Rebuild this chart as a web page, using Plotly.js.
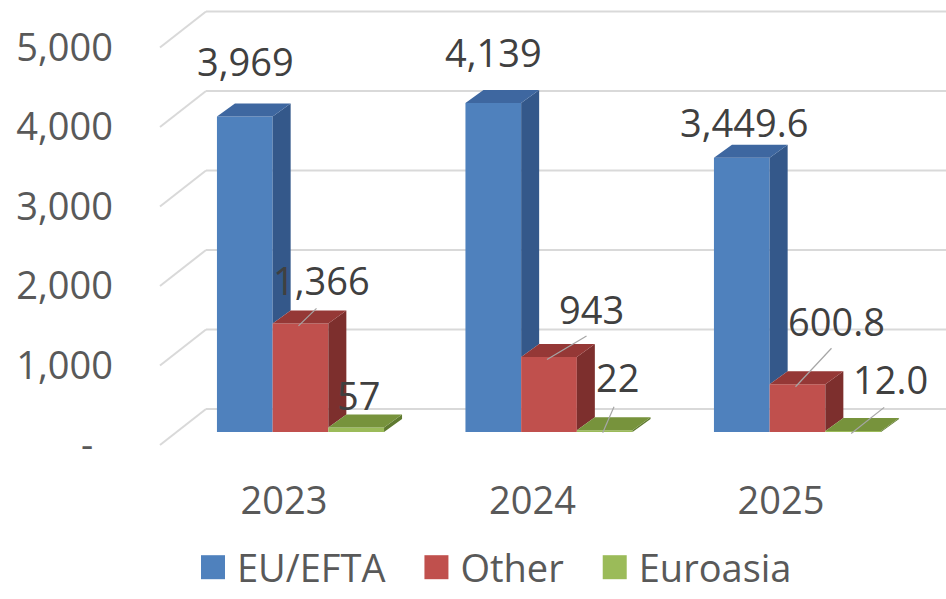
<!DOCTYPE html>
<html><head><meta charset="utf-8">
<script src="https://cdn.plot.ly/plotly-3.0.1.min.js"></script>
<style>html,body{margin:0;padding:0;background:#fff;overflow:hidden}#chart{width:946px;height:599px}</style>
</head><body><div id="chart"></div>
<script>
// ---------- data ----------
const categories = ['2023', '2024', '2025'];
const seriesNames = ['EU/EFTA', 'Other', 'Euroasia'];
const euEfta = [3969, 4139, 3449.6];
const other = [1366, 943, 600.8];
const euroasia = [57, 22, 12.0];
const labelsEuEfta = ['3,969', '4,139', '3,449.6'];
const labelsOther = ['1,366', '943', '600.8'];
const labelsEuroasia = ['57', '22', '12.0'];
const yTickValues = [0, 1000, 2000, 3000, 4000, 5000];
const yTickLabels = ['-\u00a0\u00a0', '1,000', '2,000', '3,000', '4,000', '5,000'];

// ---------- geometry / style ----------
const W = 946, H = 599;
const PLOT_L = 114, PLOT_T = 0, PLOT_B = 475;
const BASE_PX = 432, PX_PER_UNIT = 0.0795;
const CAT0_PX = 300.5, CAT_STEP_PX = 248.5;
const BAR_W = 55.7 / CAT_STEP_PX;
const DEPTH_X = 18 / CAT_STEP_PX;
const DEPTH_Y = 13 / PX_PER_UNIT;
const BACK_Y = 23 / PX_PER_UNIT;
const FRONT_Y = -13 / PX_PER_UNIT;
const LABEL_SHIFT = -16.5 / CAT_STEP_PX;
const pxToX = p => (p - CAT0_PX) / CAT_STEP_PX;
const WALL_X = pxToX(206), EDGE_X = pxToX(160), RIGHT_X = pxToX(W);

const FONT = '"Open Sans", "Liberation Sans", sans-serif';
const frontColors = ['#4F81BD', '#C0504D', '#9BBB59'];
const topColors = ['#3E67A0', '#953836', '#77933C'];
const sideColors = ['#34588A', '#7D2F2D', '#5F7A30'];

// label placement (px, relative to the front-top centre of each bar; up = positive)
const labelOffsets = [
  [[1, 55], [0, 51], [2, 36]],
  [[21, 43.5], [42, 48.5], [39, 63.7]],
  [[2, 32.5], [13, 53], [37, 52.5]]
];
// leader line starts (px, same reference); null = no leader
const leaderStarts = [
  [null, null, null],
  [[16, 15], [37.5, 21], [34, 36]],
  [null, [9.3, 23.6], [31, 23.7]]
];
const LEADER_END = [-2, -2.5];

const seriesValues = [euEfta, other, euroasia];
const seriesLabels = [labelsEuEfta, labelsOther, labelsEuroasia];
const xIdx = categories.map((c, i) => i);
const offsetOf = s => -1.5 * BAR_W + s * BAR_W;

const traces = [];
// front faces
seriesValues.forEach((vals, s) => {
  traces.push({
    type: 'bar', name: seriesNames[s], x: xIdx, y: vals,
    width: BAR_W, offset: offsetOf(s),
    marker: { color: frontColors[s], line: { width: 0 } },
    hoverinfo: 'skip'
  });
});
// 3D side and top faces
seriesValues.forEach((vals, s) => {
  const sx = [], sy = [], tx = [], ty = [];
  vals.forEach((v, i) => {
    const xl = i + offsetOf(s), xr = xl + BAR_W;
    const next = s < seriesValues.length - 1 ? seriesValues[s + 1][i] : 0;
    const bottom = Math.min(v, next);
    sx.push(xr, xr + DEPTH_X, xr + DEPTH_X, xr, null);
    sy.push(bottom, bottom + DEPTH_Y, v + DEPTH_Y, v, null);
    tx.push(xl, xr, xr + DEPTH_X, xl + DEPTH_X, null);
    ty.push(v, v, v + DEPTH_Y, v + DEPTH_Y, null);
  });
  traces.push({ type: 'scatter', mode: 'lines', line: { width: 0 }, fill: 'toself', fillcolor: sideColors[s],
    x: sx, y: sy, showlegend: false, hoverinfo: 'skip' });
  traces.push({ type: 'scatter', mode: 'lines', line: { width: 0 }, fill: 'toself', fillcolor: topColors[s],
    x: tx, y: ty, showlegend: false, hoverinfo: 'skip' });
});

// gridlines (back wall + floor diagonals)
const shapes = [];
yTickValues.forEach(v => {
  shapes.push({ type: 'line', layer: 'below', xref: 'x', yref: 'y',
    x0: WALL_X, x1: RIGHT_X, y0: v + BACK_Y, y1: v + BACK_Y, line: { color: '#D9D9D9', width: 2 } });
  shapes.push({ type: 'line', layer: 'below', xref: 'x', yref: 'y',
    x0: EDGE_X, x1: WALL_X, y0: v + FRONT_Y, y1: v + BACK_Y, line: { color: '#D9D9D9', width: 2 } });
});

// data labels + leader lines
const annotations = [];
seriesValues.forEach((vals, s) => {
  vals.forEach((v, i) => {
    const cx = i + offsetOf(s) + BAR_W / 2;
    const off = labelOffsets[s][i];
    annotations.push({ x: cx, y: v, xref: 'x', yref: 'y', text: seriesLabels[s][i], showarrow: false,
      xanchor: 'center', yanchor: 'middle', xshift: off[0], yshift: off[1],
      font: { family: FONT, size: 38, color: '#404040' } });
    const ld = leaderStarts[s][i];
    if (ld) {
      shapes.push({ type: 'line', xref: 'x', yref: 'y', xsizemode: 'pixel', ysizemode: 'pixel',
        xanchor: cx, yanchor: v, x0: ld[0], y0: ld[1], x1: LEADER_END[0], y1: LEADER_END[1],
        line: { color: '#A6A6A6', width: 1.2 } });
    }
  });
});

const layout = {
  width: W, height: H,
  margin: { l: PLOT_L, r: 0, t: PLOT_T, b: H - PLOT_B, pad: 0 },
  paper_bgcolor: '#FFFFFF', plot_bgcolor: 'rgba(0,0,0,0)',
  barmode: 'overlay', hovermode: false,
  font: { family: FONT, color: '#595959', size: 38 },
  xaxis: {
    range: [pxToX(PLOT_L), pxToX(W)], showgrid: false, zeroline: false, showline: false, ticks: '',
    tickmode: 'array', tickvals: xIdx.map(i => i + LABEL_SHIFT), ticktext: categories,
    tickfont: { family: FONT, size: 38, color: '#595959' }, fixedrange: true
  },
  yaxis: {
    range: [(BASE_PX - PLOT_B) / PX_PER_UNIT, (BASE_PX - PLOT_T) / PX_PER_UNIT],
    showgrid: false, zeroline: false, showline: false, ticks: '',
    tickmode: 'array', tickvals: yTickValues.map(v => v + FRONT_Y), ticktext: yTickLabels,
    tickfont: { family: FONT, size: 38, color: '#595959' }, fixedrange: true
  },
  showlegend: true,
  legend: { orientation: 'h', xref: 'container', yref: 'container', x: 167 / W, xanchor: 'left',
    y: 0, yanchor: 'bottom', itemwidth: 60,
    font: { family: FONT, size: 38, color: '#595959' }, traceorder: 'normal' },
  shapes: shapes, annotations: annotations
};

Plotly.newPlot('chart', traces, layout, { staticPlot: true, displayModeBar: false }).then(gd => {
  // enlarge legend swatches to match the reference's larger squares
  gd.querySelectorAll('.legend .legendpoints path').forEach(p => p.setAttribute('transform', 'translate(46,0) scale(2)'));
});
</script></body></html>
